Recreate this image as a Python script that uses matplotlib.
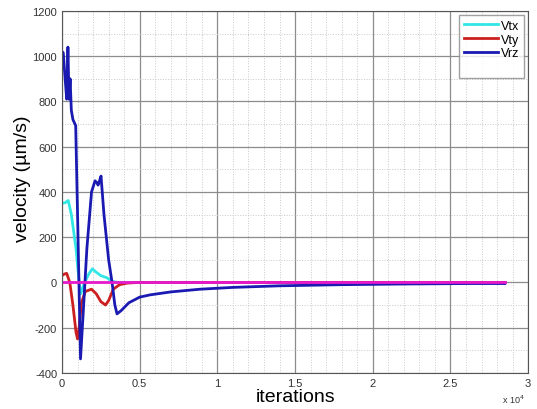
import numpy as np
import matplotlib.pyplot as plt
from matplotlib.ticker import MultipleLocator, FuncFormatter

# Vrz (blue)
it_rz = [0, 80, 200, 300, 380, 450, 520, 600, 700, 880, 1000, 1190, 1350, 1600,
         1900, 2125, 2250, 2320, 2420, 2510, 2700, 3000, 3220, 3400, 3540,
         3800, 4300, 5000, 5670, 7000, 8890, 11000, 14000, 18000, 22000, 26000, 28500]
v_rz = [1020, 1015, 900, 810, 1040, 810, 900, 760, 720, 693, 300, -338, -150, 150,
        400, 449, 440, 430, 450, 470, 300, 100, 0, -100, -139,
        -125, -90, -65, -55, -42, -30, -22, -15, -10, -7, -5, -5]

# Vtx (cyan)
it_tx = [0, 200, 400, 600, 900, 1100, 1200, 1400, 1700, 1950, 2200, 2500, 2900,
         3200, 3600, 5000, 28500]
v_tx = [350, 352, 362, 300, 150, 0, -50, -10, 35, 60, 45, 30, 20, 5, 0, 0, 0]

# Vty (red)
it_ty = [0, 150, 300, 500, 700, 900, 1000, 1100, 1250, 1500, 1900, 2200, 2500,
         2800, 3000, 3300, 3700, 4200, 5000, 28500]
v_ty = [30, 37, 40, 0, -100, -220, -250, -200, -90, -40, -30, -50, -85,
        -100, -80, -30, -10, -3, 0, 0]

# zero line (magenta)
it_0 = [0, 28500]
v_0 = [0, 0]

plt.rcParams['font.family'] = ['Liberation Sans', 'DejaVu Sans']
plt.rcParams['axes.unicode_minus'] = False

fig = plt.figure(figsize=(5.37, 4.10), dpi=100)
ax = fig.add_axes([0.1155, 0.088, 0.868, 0.883])

ax.plot(it_tx, v_tx, color='#33e6e6', lw=2, label='Vtx')
ax.plot(it_ty, v_ty, color='#cc1f1f', lw=2, label='Vty')
ax.plot(it_rz, v_rz, color='#1a1ab3', lw=2, label='Vrz')
ax.plot(it_0, v_0, color='#e619cc', lw=2, label=' ')

ax.set_xlim(0, 30000)
ax.set_ylim(-400, 1200)
ax.xaxis.set_major_locator(MultipleLocator(5000))
ax.xaxis.set_minor_locator(MultipleLocator(1000))
ax.yaxis.set_major_locator(MultipleLocator(200))
ax.yaxis.set_minor_locator(MultipleLocator(100))
ax.xaxis.set_major_formatter(FuncFormatter(lambda v, p: f'{v / 1e4:g}'))

ax.grid(which='major', color='#8c8c8c', lw=0.9, ls='-')
ax.grid(which='minor', color='#c8c8c8', lw=0.7, ls=':')
ax.set_axisbelow(True)
ax.tick_params(which='both', direction='in', length=0, labelsize=8, colors='#333333')
for s in ax.spines.values():
    s.set_color('#555555')

ax.set_ylabel('velocity (\u00b5m/s)', fontsize=14, labelpad=2)
ax.yaxis.set_label_coords(-0.067, 0.54)
ax.set_xlabel('iterations', fontsize=14, labelpad=0)
fig.text(0.935, 0.015, 'x 10$^4$', fontsize=6.5, color='#333333')

leg = ax.legend(loc='upper right', fontsize=9, handlelength=2.7, frameon=True,
                fancybox=False, edgecolor='#888888', borderaxespad=0.3,
                labelspacing=0.15, handletextpad=0.25, borderpad=0.4)
leg.legend_handles[3].set_color('white')
leg.get_frame().set_linewidth(1)

fig.savefig('out.png', dpi=100)
